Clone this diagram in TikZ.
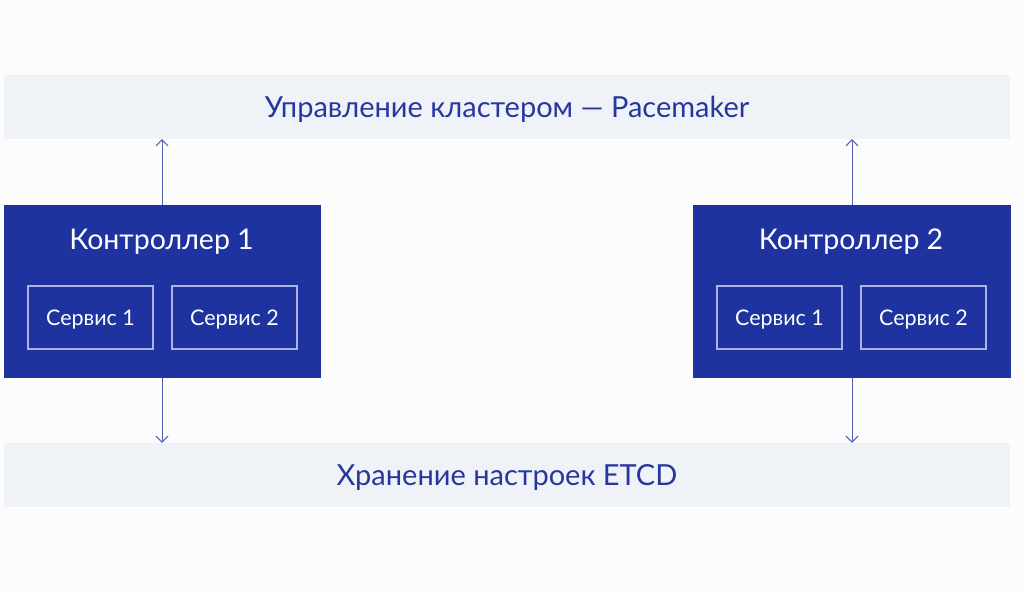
\documentclass[tikz,border=0pt]{standalone}
\usepackage{fontspec}
\setmainfont{Lato}
\usetikzlibrary{arrows.meta}
\definecolor{ctrlblue}{RGB}{30,50,160}
\definecolor{bandbg}{RGB}{239,243,247}
\definecolor{bandtext}{RGB}{40,55,160}
\definecolor{arrowcol}{RGB}{85,95,175}
\definecolor{svcborder}{RGB}{170,178,230}
\definecolor{pagebg}{RGB}{252,252,252}
\tikzset{
  band/.style={fill=bandbg, draw=none, inner sep=0pt},
  bandlabel/.style={text=bandtext, inner sep=0pt, font=\fontsize{29}{34}\selectfont},
  ctrlbox/.style={fill=ctrlblue, draw=none, inner sep=0pt},
  ctrltitle/.style={text=white, font=\fontsize{28.5}{34}\selectfont, inner sep=0pt},
  svcbox/.style={draw=svcborder, line width=1.2pt, fill=ctrlblue, inner sep=0pt},
  svclabel/.style={text=white, inner sep=0pt, font=\fontsize{21.5}{26}\selectfont},
  link/.style={draw=arrowcol, line width=1pt, -{Straight Barb[length=6pt,width=12pt]}}
}
\begin{document}
\begin{tikzpicture}[x=1pt,y=-1pt]
\useasboundingbox[fill=pagebg] (0,0) rectangle (1024,591);
% bands
\node[band, minimum width=1006pt, minimum height=64pt] (top) at (507,107) {};
\node[bandlabel] (toptext) at (507,109) {Управление кластером — Pacemaker};
\node[band, minimum width=1006pt, minimum height=64pt] (bot) at (507,475) {};
\node[bandlabel] (bottext) at (507,477) {Хранение настроек ETCD};
% controllers
\node[ctrlbox, minimum width=317pt, minimum height=173pt] (c1) at (162.5,291.5) {};
\node[ctrltitle] (c1t) at (161.5,242) {Контроллер 1};
\node[svcbox, minimum width=125pt, minimum height=63pt] (c1s1) at (90.5,317.5) {};
\node[svclabel] at (c1s1.center) [yshift=-2pt] {Сервис 1};
\node[svcbox, minimum width=125pt, minimum height=63pt] (c1s2) at (234.5,317.5) {};
\node[svclabel] at (c1s2.center) [yshift=-2pt] {Сервис 2};
\node[ctrlbox, minimum width=318pt, minimum height=173pt] (c2) at (852,291.5) {};
\node[ctrltitle] (c2t) at (851,242) {Контроллер 2};
\node[svcbox, minimum width=125pt, minimum height=63pt] (c2s1) at (779.5,317.5) {};
\node[svclabel] at (c2s1.center) [yshift=-2pt] {Сервис 1};
\node[svcbox, minimum width=125pt, minimum height=63pt] (c2s2) at (923.5,317.5) {};
\node[svclabel] at (c2s2.center) [yshift=-2pt] {Сервис 2};
% arrows
\draw[link] (c1.north -| 162,0) -- (top.south -| 162,0);
\draw[link] (c1.south -| 162,0) -- (bot.north -| 162,0);
\draw[link] (c2.north) -- (top.south -| c2.north);
\draw[link] (c2.south) -- (bot.north -| c2.south);
\end{tikzpicture}
\end{document}
